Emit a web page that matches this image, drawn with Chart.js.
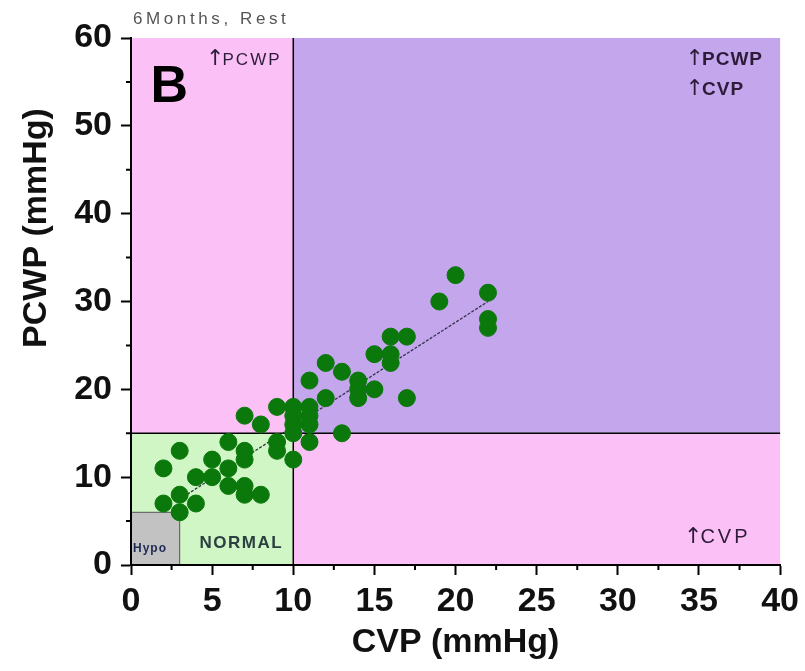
<!DOCTYPE html>
<html>
<head>
<meta charset="utf-8">
<script src="https://cdn.jsdelivr.net/npm/chart.js@4.4.0/dist/chart.umd.min.js"></script>
<style>
    body { margin: 0; background: #fff; }
    #wrap { width: 805px; height: 671px; position: relative; }
</style>
</head>
<body>
<div id="wrap"><canvas id="myChart"></canvas></div>
<script>
    // CVP / PCWP per patient, 6 months, rest
    const cvp  = [20, 22, 19, 22, 22, 16, 17, 15, 16, 16, 12, 13, 11, 14, 14, 14, 15, 12, 17,
                  9, 10, 10, 10, 10, 11, 11, 11, 11, 7, 8, 13, 10, 9, 9, 6, 3, 7, 7, 5, 6, 2,
                  4, 5, 6, 7, 7, 8, 3, 2, 4, 3];
    const pcwp = [33, 31, 30, 28, 27, 26, 26, 24, 24, 23, 23, 22, 21, 21, 20, 19, 20, 19, 19,
                  18, 18, 17, 16, 15, 18, 17, 16, 14, 17, 16, 15, 12, 14, 13, 14, 13, 13, 12, 12, 11, 11,
                  10, 10, 9, 9, 8, 8, 8, 7, 7, 6];

    // regression line ends
    const fitCvp  = [3, 22];
    const fitPcwp = [7.5, 30];

    // zone limits
    const cvpCut = 10, pcwpCut = 15;
    const hypoCvp = 3, hypoPcwp = 6;

    const xTicks = [0, 5, 10, 15, 20, 25, 30, 35, 40];
    const xMinor = [2.5, 7.5, 12.5, 17.5, 22.5, 27.5, 32.5, 37.5];
    const yTicks = [0, 10, 20, 30, 40, 50, 60];
    const yMinor = [5, 15, 25, 35, 45, 55];

    const FONT = "Arial, 'Liberation Sans', sans-serif";

    const pts = cvp.map((v, i) => ({ x: v, y: pcwp[i] }));
    const fit = fitCvp.map((v, i) => ({ x: v, y: fitPcwp[i] }));

    // coloured zones + cut lines, under everything
    const zones = {
        id: 'zones',
        beforeDraw(chart) {
            const { ctx, chartArea: a, scales: { x, y } } = chart;
            const px = v => x.getPixelForValue(v);
            const py = v => y.getPixelForValue(v);
            ctx.save();
            ctx.fillStyle = '#fbc0f5';
            ctx.fillRect(a.left, a.top, a.right - a.left, a.bottom - a.top);
            ctx.fillStyle = '#c4a6ec';
            ctx.fillRect(px(cvpCut), a.top, a.right - px(cvpCut), py(pcwpCut) - a.top);
            ctx.fillStyle = '#d0f6c6';
            ctx.fillRect(a.left, py(pcwpCut), px(cvpCut) - a.left, a.bottom - py(pcwpCut));
            ctx.fillStyle = '#c2c2c2';
            ctx.fillRect(a.left, py(hypoPcwp), px(hypoCvp) - a.left, a.bottom - py(hypoPcwp));
            ctx.strokeStyle = '#555';
            ctx.lineWidth = 1;
            ctx.strokeRect(a.left, py(hypoPcwp), px(hypoCvp) - a.left, a.bottom - py(hypoPcwp));

            ctx.strokeStyle = '#000';
            ctx.lineWidth = 1.5;
            ctx.beginPath();
            ctx.moveTo(px(cvpCut), a.top);
            ctx.lineTo(px(cvpCut), a.bottom);
            ctx.moveTo(a.left, py(pcwpCut));
            ctx.lineTo(a.right, py(pcwpCut));
            ctx.stroke();
            ctx.restore();
        }
    };

    // arrow (taller glyph) followed by text, starting at x
    function arrowText(ctx, txt, x, y, font) {
        ctx.textAlign = 'left';
        const ls = ctx.letterSpacing;
        ctx.letterSpacing = '0px';
        ctx.font = "22px 'DejaVu Sans', sans-serif";
        ctx.fillText('↑', x - 2, y);
        const w = ctx.measureText('↑').width;
        ctx.letterSpacing = ls;
        ctx.font = font;
        ctx.fillText(txt, x + w - 4, y + 1);
    }

    // minor ticks, labels in the zones, y title
    const extras = {
        id: 'extras',
        afterDraw(chart) {
            const { ctx, chartArea: a, scales: { x, y } } = chart;
            const px = v => x.getPixelForValue(v);
            const py = v => y.getPixelForValue(v);
            ctx.save();
            ctx.strokeStyle = '#000';
            ctx.lineWidth = 2;
            ctx.beginPath();
            xMinor.forEach(v => { ctx.moveTo(px(v), a.bottom); ctx.lineTo(px(v), a.bottom + 5); });
            yMinor.forEach(v => { ctx.moveTo(a.left, py(v)); ctx.lineTo(a.left - 5, py(v)); });
            ctx.stroke();

            ctx.textBaseline = 'middle';
            ctx.fillStyle = '#555';
            ctx.textAlign = 'left';
            ctx.letterSpacing = '3.6px';
            ctx.font = '17px ' + FONT;
            ctx.fillText('6Months, Rest', a.left + 2, 19);

            ctx.letterSpacing = '0px';
            ctx.fillStyle = '#000';
            ctx.font = 'bold 52px ' + FONT;
            ctx.fillText('B', px(1.2), py(54.3));

            ctx.fillStyle = '#2d1b3a';
            ctx.letterSpacing = '2px';
            arrowText(ctx, 'PCWP', px(4.75), py(57.6), '17px ' + FONT);
            ctx.letterSpacing = '1px';
            arrowText(ctx, 'PCWP', px(34.3), py(57.6), 'bold 19px ' + FONT);
            arrowText(ctx, 'CVP', px(34.3), py(54.2), 'bold 19px ' + FONT);
            ctx.letterSpacing = '3px';
            arrowText(ctx, 'CVP', px(34.2), py(3.2), '20px ' + FONT);

            ctx.textAlign = 'left';
            ctx.fillStyle = '#1e2a55';
            ctx.letterSpacing = '1px';
            ctx.font = 'bold 12px ' + FONT;
            ctx.fillText('Hypo', a.left + 2, py(1.9));
            ctx.textAlign = 'center';
            ctx.fillStyle = '#2c4040';
            ctx.letterSpacing = '1.5px';
            ctx.font = 'bold 17px ' + FONT;
            ctx.fillText('NORMAL', px(6.8), py(2.5));

            ctx.letterSpacing = '0px';
            ctx.fillStyle = '#111';
            ctx.font = 'bold 34px ' + FONT;
            ctx.translate(37, 228);
            ctx.rotate(-Math.PI / 2);
            ctx.fillText('PCWP (mmHg)', 0, 0);
            ctx.restore();
        }
    };

    const axisBase = {
        type: 'linear',
        grid: { display: true, drawOnChartArea: false, drawTicks: true, tickLength: 10, tickWidth: 2, tickColor: '#000' },
        border: { display: true, color: '#000', width: 2 },
        ticks: { autoSkip: false, maxRotation: 0, color: '#111', font: { family: FONT, size: 34, weight: 'bold' } }
    };

    new Chart(document.getElementById('myChart'), {
        type: 'scatter',
        data: {
            datasets: [{
                label: 'patients',
                data: pts,
                pointRadius: 8.5,
                pointHoverRadius: 8.5,
                backgroundColor: '#0a780a',
                borderColor: '#0a780a',
                borderWidth: 1
            }, {
                label: 'fit',
                data: fit,
                showLine: true,
                pointRadius: 0,
                borderColor: '#33334d',
                borderWidth: 1.3,
                borderDash: [3, 1.5]
            }]
        },
        options: {
            responsive: true,
            maintainAspectRatio: false,
            animation: false,
            layout: { padding: { top: 38, right: 24, left: 0, bottom: 0 } },
            plugins: { legend: { display: false }, tooltip: { enabled: false } },
            scales: {
                x: Object.assign({}, axisBase, {
                    position: 'bottom', min: 0, max: 40,
                    ticks: Object.assign({}, axisBase.ticks, { padding: 6 }),
                    afterBuildTicks: s => { s.ticks = xTicks.map(v => ({ value: v })); },
                    afterFit: s => { s.height = 106; },
                    title: { display: true, text: 'CVP (mmHg)', color: '#111',
                             font: { family: FONT, size: 34, weight: 'bold' }, padding: { top: 0, bottom: 8 } }
                }),
                y: Object.assign({}, axisBase, {
                    position: 'left', min: 0, max: 60,
                    ticks: Object.assign({}, axisBase.ticks, { padding: 9 }),
                    afterBuildTicks: s => { s.ticks = yTicks.map(v => ({ value: v })); },
                    afterFit: s => { s.width = 131; }
                })
            }
        },
        plugins: [zones, extras]
    });
</script>
</body>
</html>
